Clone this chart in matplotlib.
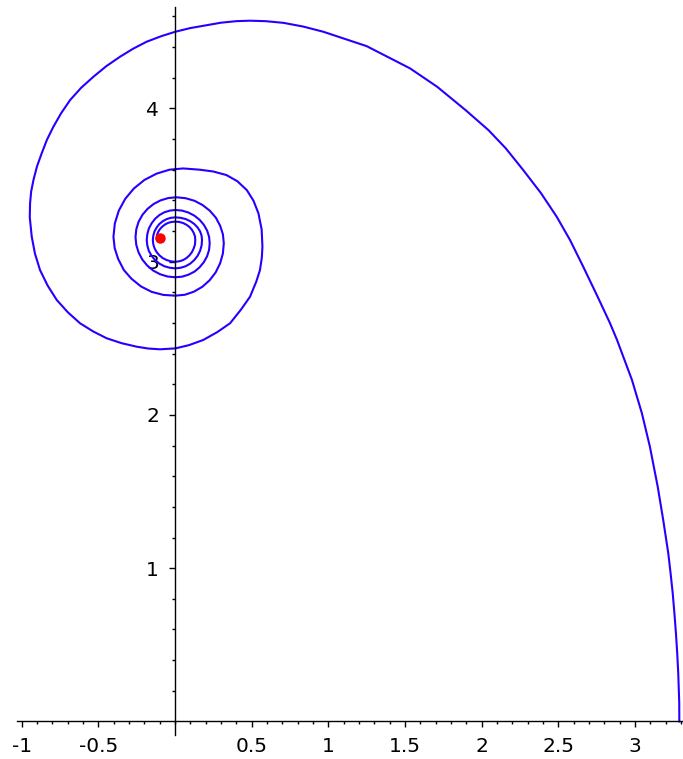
import matplotlib
matplotlib.use("Agg")
import matplotlib.pyplot as plt
from matplotlib.ticker import FixedLocator, FixedFormatter

# outer arm: from the x axis, up over the top and round to the lowest point
outer_x = [
    3.290, 3.2895, 3.286, 3.283, 3.276, 3.268, 3.258, 3.247, 3.233, 3.218,
    3.185, 3.149, 3.098, 3.046, 2.981, 2.884, 2.838, 2.757, 2.663, 2.577,
    2.490, 2.388, 2.272, 2.158, 2.045, 1.895, 1.710, 1.533, 1.250, 0.967,
    0.835, 0.707, 0.590, 0.489, 0.400, 0.300, 0.207, 0.100, 0.002, -0.090,
    -0.185, -0.274, -0.359, -0.449, -0.533, -0.613, -0.685, -0.743, -0.794, -0.836,
    -0.870, -0.901, -0.924, -0.939, -0.946, -0.948, -0.935, -0.914, -0.881, -0.832,
    -0.772, -0.700, -0.620, -0.535, -0.446, -0.349, -0.250, -0.174, -0.098,
]
outer_y = [
    0.000, 0.120, 0.220, 0.314, 0.450, 0.575, 0.705, 0.836, 0.967, 1.097,
    1.314, 1.532, 1.793, 2.010, 2.228, 2.488, 2.598, 2.771, 2.967, 3.141,
    3.293, 3.446, 3.597, 3.739, 3.858, 3.989, 4.141, 4.261, 4.406, 4.500,
    4.534, 4.558, 4.569, 4.572, 4.569, 4.559, 4.543, 4.524, 4.500, 4.471,
    4.435, 4.389, 4.337, 4.275, 4.206, 4.134, 4.054, 3.969, 3.880, 3.795,
    3.707, 3.621, 3.532, 3.457, 3.380, 3.290, 3.162, 3.052, 2.945, 2.845,
    2.750, 2.670, 2.598, 2.545, 2.500, 2.468, 2.445, 2.433, 2.428,
]

# inner coils, one quarter turn per row (bottom -> right -> top -> left)
coil_x = [
    0.002, 0.090, 0.184, 0.275, 0.359, 0.430, 0.489, 0.530, 0.554, 0.566, 0.570,
    0.565, 0.544, 0.512, 0.468, 0.406, 0.335, 0.250, 0.160, 0.053,
    -0.036, -0.121, -0.200, -0.269, -0.325, -0.367, -0.393, -0.402,
    -0.394, -0.371, -0.334, -0.284, -0.222, -0.153, -0.077, 0.002,
    0.064, 0.123, 0.178, 0.225, 0.265, 0.294, 0.312, 0.318,
    0.312, 0.294, 0.266, 0.227, 0.180, 0.127, 0.068, 0.008,
    -0.044, -0.094, -0.140, -0.180, -0.213, -0.238, -0.253, -0.258,
    -0.253, -0.238, -0.214, -0.182, -0.143, -0.098, -0.049, 0.002,
    0.046, 0.088, 0.127, 0.160, 0.188, 0.209, 0.222, 0.226,
    0.222, 0.209, 0.188, 0.160, 0.126, 0.088, 0.046, 0.002,
    -0.034, -0.070, -0.102, -0.130, -0.153, -0.171, -0.181, -0.185,
    -0.181, -0.171, -0.153, -0.130, -0.102, -0.070, -0.034, 0.002,
    0.036, 0.069, 0.099, 0.125, 0.147, 0.163, 0.173, 0.176,
    0.173, 0.163, 0.147, 0.125, 0.099, 0.069, 0.036, 0.002,
    -0.027, -0.054, -0.080, -0.102, -0.120, -0.134, -0.142, -0.145,
    -0.142, -0.134, -0.120, -0.102, -0.080, -0.054, -0.027, 0.002,
    0.027, 0.052, 0.074, 0.094, 0.110, 0.122, 0.130, 0.132,
    0.130, 0.122, 0.110, 0.094, 0.074, 0.052, 0.027, 0.002,
    -0.022, -0.045, -0.066, -0.084, -0.099, -0.111, -0.118, -0.120,
]
coil_y = [
    2.434, 2.455, 2.489, 2.540, 2.598, 2.687, 2.771, 2.870, 2.945, 3.025, 3.097,
    3.210, 3.315, 3.397, 3.467, 3.525, 3.565, 3.588, 3.600, 3.608,
    3.600, 3.574, 3.533, 3.477, 3.410, 3.333, 3.249, 3.162,
    3.088, 3.017, 2.945, 2.888, 2.838, 2.803, 2.783, 2.778,
    2.784, 2.804, 2.836, 2.878, 2.930, 2.989, 3.053, 3.120,
    3.179, 3.235, 3.287, 3.332, 3.369, 3.397, 3.414, 3.420,
    3.415, 3.400, 3.376, 3.344, 3.305, 3.260, 3.211, 3.160,
    3.109, 3.060, 3.014, 2.975, 2.942, 2.918, 2.903, 2.898,
    2.902, 2.915, 2.935, 2.963, 2.997, 3.035, 3.077, 3.120,
    3.162, 3.203, 3.240, 3.273, 3.300, 3.320, 3.333, 3.337,
    3.333, 3.322, 3.304, 3.280, 3.250, 3.216, 3.179, 3.141,
    3.105, 3.070, 3.038, 3.010, 2.987, 2.970, 2.960, 2.956,
    2.960, 2.970, 2.987, 3.010, 3.038, 3.070, 3.105, 3.141,
    3.170, 3.198, 3.223, 3.246, 3.264, 3.278, 3.286, 3.289,
    3.286, 3.278, 3.264, 3.246, 3.223, 3.198, 3.170, 3.141,
    3.113, 3.087, 3.062, 3.041, 3.023, 3.010, 3.002, 2.999,
    3.002, 3.010, 3.023, 3.041, 3.062, 3.087, 3.113, 3.141,
    3.164, 3.187, 3.208, 3.226, 3.241, 3.252, 3.259, 3.261,
    3.259, 3.253, 3.242, 3.228, 3.212, 3.192, 3.172, 3.150,
]

# limit point of the spiral
limit_x = [-0.100]
limit_y = [3.154]

x_major = [-1.0, -0.5, 0.5, 1.0, 1.5, 2.0, 2.5, 3.0]
x_labels = ["-1", "-0.5", "0.5", "1", "1.5", "2", "2.5", "3"]
y_major = [1, 2, 3, 4]
y_labels = ["1", "2", "3", "4"]

fig = plt.figure(figsize=(6.83, 7.59), dpi=100)
ax = fig.add_axes([0.0245, 0.0316, 0.9755, 0.9592])

ax.plot(outer_x + coil_x, outer_y + coil_y, color="#2600ff", lw=1.5,
        solid_joinstyle="round")
ax.plot(limit_x, limit_y, "o", color="red", ms=6.5, zorder=3)

ax.set_xlim(-1.033, 3.314)
ax.set_ylim(-0.088, 4.661)
ax.set_aspect("equal")

for side in ("top", "right"):
    ax.spines[side].set_visible(False)
ax.spines["left"].set_position(("data", 0))
ax.spines["bottom"].set_position(("data", 0))
for side in ("left", "bottom"):
    ax.spines[side].set_linewidth(1.0)

ax.xaxis.set_major_locator(FixedLocator(x_major))
ax.xaxis.set_major_formatter(FixedFormatter(x_labels))
ax.xaxis.set_minor_locator(FixedLocator([i / 10 for i in range(-10, 34)]))
ax.yaxis.set_major_locator(FixedLocator(y_major))
ax.yaxis.set_major_formatter(FixedFormatter(y_labels))
ax.yaxis.set_minor_locator(FixedLocator([i / 5 for i in range(1, 24)]))

ax.tick_params(which="major", direction="out", length=4.5, width=1.0,
               labelsize=14.5, pad=7)
ax.tick_params(which="minor", direction="out", length=2.5, width=1.0)

fig.savefig("out.png", dpi=100)
